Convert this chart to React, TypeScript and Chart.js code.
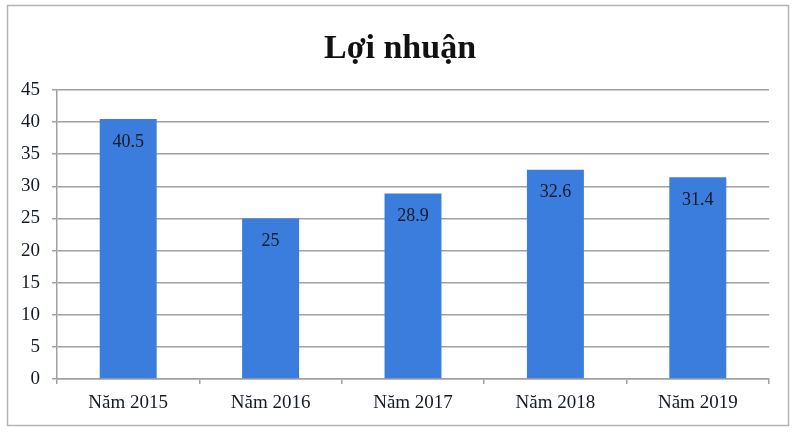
import React, { useEffect, useRef } from "react";
import { Chart, registerables } from "chart.js";

Chart.register(...registerables);

const categories = ["Năm 2015", "Năm 2016", "Năm 2017", "Năm 2018", "Năm 2019"];
const profitValues = [40.5, 25, 28.9, 32.6, 31.4];
const chartTitle = "Lợi nhuận";

const FONT = "'Liberation Serif', 'DejaVu Serif', serif";

const framePlugin = {
  id: "frame",
  beforeDraw(chart: any) {
    const ctx = chart.ctx;
    ctx.save();
    ctx.fillStyle = "#ffffff";
    ctx.fillRect(0, 0, chart.width, chart.height);
    ctx.strokeStyle = "#b4b4b4";
    ctx.lineWidth = 1.5;
    ctx.strokeRect(7.5, 5.5, 781, 420);
    ctx.fillStyle = "#111111";
    ctx.font = `bold 34px ${FONT}`;
    ctx.textAlign = "center";
    ctx.textBaseline = "alphabetic";
    ctx.fillText(chartTitle, 400, 58);
    ctx.restore();
  },
};

const barLabelPlugin = {
  id: "barLabels",
  afterDatasetsDraw(chart: any) {
    const ctx = chart.ctx;
    const meta = chart.getDatasetMeta(0);
    ctx.save();
    ctx.fillStyle = "#141a24";
    ctx.font = `18px ${FONT}`;
    ctx.textAlign = "center";
    ctx.textBaseline = "middle";
    meta.data.forEach((bar: any, i: number) => {
      ctx.fillText(String(profitValues[i]), bar.x, bar.y + 23);
    });
    ctx.restore();
  },
};

export default function App() {
  const canvasRef = useRef<HTMLCanvasElement | null>(null);

  useEffect(() => {
    if (!canvasRef.current) return;
    const chart = new Chart(canvasRef.current, {
      type: "bar",
      data: {
        labels: categories,
        datasets: [
          {
            data: profitValues,
            backgroundColor: "#3b7ddd",
            borderWidth: 0,
            barPercentage: 0.4,
            categoryPercentage: 1,
          },
        ],
      },
      options: {
        responsive: false,
        animation: false,
        layout: { padding: { top: 90, right: 31, bottom: 0, left: 0 } },
        plugins: {
          legend: { display: false },
          title: { display: false },
          tooltip: { enabled: false },
        },
        scales: {
          x: {
            grid: {
              display: true,
              offset: true,
              drawOnChartArea: false,
              drawTicks: true,
              tickLength: 5,
              color: "#a0a0a0",
              lineWidth: 1.5,
            },
            border: { display: true, color: "#a0a0a0", width: 1.5 },
            ticks: {
              color: "#141a24",
              font: { family: FONT, size: 19 },
              padding: 8,
            },
            afterFit(scale: any) {
              scale.height = 56;
            },
          },
          y: {
            min: 0,
            max: 45,
            ticks: {
              stepSize: 5,
              color: "#141a24",
              font: { family: FONT, size: 19 },
              padding: 12,
            },
            grid: {
              display: true,
              drawTicks: true,
              tickLength: 5,
              color: "#a0a0a0",
              lineWidth: 1.5,
            },
            border: { display: true, color: "#a0a0a0", width: 1.5 },
            afterFit(scale: any) {
              scale.width = 57;
            },
          },
        },
      },
      plugins: [framePlugin, barLabelPlugin],
    });
    return () => chart.destroy();
  }, []);

  return (
    <div style={{ position: "fixed", left: 0, top: 0, width: 800, height: 435, background: "#fff" }}>
      <canvas ref={canvasRef} width={800} height={435} style={{ display: "block" }} />
    </div>
  );
}
